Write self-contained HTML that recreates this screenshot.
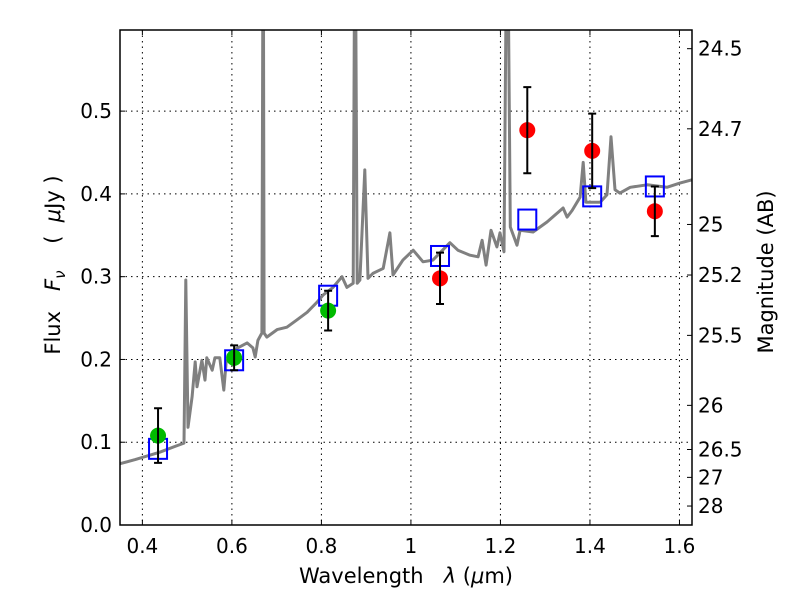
<!DOCTYPE html>
<html><head><meta charset="utf-8"><style>
body{margin:0;background:#fff;}
svg{display:block;font-family:"DejaVu Sans","Liberation Sans",sans-serif;}
</style></head><body>
<svg id="chart" width="800" height="600" viewBox="0 0 800 600" xmlns="http://www.w3.org/2000/svg">
<rect x="0" y="0" width="800" height="600" fill="#fff"/>
<defs><clipPath id="clip"><rect x="120" y="30" width="572" height="495"/></clipPath></defs>
<g id="grid"></g>
<g id="plot" clip-path="url(#clip)"></g>
<rect x="120" y="30" width="572" height="495" fill="none" stroke="#000" stroke-width="1.5"/>
<g id="axes"></g>
<text x="406" y="583" font-size="21" text-anchor="middle" style="white-space:pre">Wavelength   <tspan font-style="italic">λ</tspan> (<tspan font-style="italic">μ</tspan>m)</text>
<text transform="translate(60,265) rotate(-90)" font-size="21" text-anchor="middle" style="white-space:pre">Flux   <tspan font-style="italic">F</tspan><tspan font-style="italic" font-size="15" dy="5">ν</tspan><tspan dy="-5">    (  </tspan><tspan font-style="italic">μ</tspan>Jy )</text>
<text transform="translate(773,272) rotate(-90)" font-size="21" text-anchor="middle">Magnitude (AB)</text>
</svg>
<script>
const specWl=[.350,.384,.439,.473,.493,.497,.502,.511,.518,.522,.533,.540,.544,.556,.562,.573,.582,.587,.603,.634,.647,.652,.658,.667,.670,.672,.678,.701,.723,.746,.768,.790,.804,.826,.846,.857,.871,.875,.880,.886,.897,.904,.915,.938,.953,.960,.982,1.005,1.027,1.049,1.087,1.105,1.132,1.150,1.159,1.168,1.179,1.192,1.199,1.208,1.215,1.222,1.237,1.244,1.273,1.304,1.340,1.349,1.360,1.378,1.385,1.391,1.423,1.438,1.447,1.456,1.467,1.490,1.528,1.572,1.601,1.628];
const specFlux=[.074,.079,.088,.095,.099,.296,.118,.155,.197,.167,.199,.175,.202,.187,.202,.202,.163,.196,.211,.220,.214,.203,.223,.232,.8,.232,.227,.236,.239,.248,.257,.269,.278,.287,.300,.287,.292,.8,.292,.296,.429,.298,.304,.310,.353,.302,.320,.332,.318,.320,.341,.332,.326,.324,.344,.314,.356,.336,.353,.330,.8,.360,.338,.356,.354,.366,.383,.372,.380,.396,.438,.390,.390,.399,.469,.405,.401,.408,.411,.408,.413,.417];
const greenWl=[0.435,0.605,0.815];
const greenFlux=[0.108,0.202,0.259];
const greenErr=[0.033,0.015,0.024];
const redWl=[1.065,1.26,1.405,1.545];
const redFlux=[0.298,0.477,0.452,0.379];
const redErr=[0.031,0.052,0.045,0.030];
const modelWl=[0.435,0.605,0.815,1.065,1.26,1.405,1.545];
const modelFlux=[0.092,0.199,0.277,0.325,0.369,0.397,0.409];
const xTicks=[0.4,0.6,0.8,1.0,1.2,1.4,1.6];
const xTickLabels=["0.4","0.6","0.8","1","1.2","1.4","1.6"];
const yTicks=[0,0.1,0.2,0.3,0.4,0.5];
const yTickLabels=["0.0","0.1","0.2","0.3","0.4","0.5"];
const magTicks=[24.5,24.7,25,25.2,25.5,26,26.5,27,28];
const magTickLabels=["24.5","24.7","25","25.2","25.5","26","26.5","27","28"];

const NS="http://www.w3.org/2000/svg";
const X0=120,X1=692,Y0=525,Y1=30,XMIN=0.35,XMAX=1.628,YMIN=0,YMAX=0.598;
function sx(v){return X0+(v-XMIN)/(XMAX-XMIN)*(X1-X0);}
function sy(v){return Y0-(v-YMIN)/(YMAX-YMIN)*(Y0-Y1);}
function magToFlux(m){return Math.pow(10,(23.9-m)/2.5);}
function mk(tag,attrs,parent){const e=document.createElementNS(NS,tag);for(const k in attrs)e.setAttribute(k,attrs[k]);parent.appendChild(e);return e;}
const grid=document.getElementById('grid'),plot=document.getElementById('plot'),axes=document.getElementById('axes');

xTicks.forEach((t,i)=>{
  const x=sx(t);
  const g=mk('line',{x1:x,x2:x,y1:Y1,y2:Y0,stroke:'#000','stroke-width':1,'stroke-dasharray':'1.5,4'},grid);
  
  
  mk('line',{x1:x,x2:x,y1:Y0,y2:Y0-5,stroke:'#000','stroke-width':1},axes);
  mk('line',{x1:x,x2:x,y1:Y1,y2:Y1+5,stroke:'#000','stroke-width':1},axes);
  const tx=mk('text',{x:x,y:553,'font-size':20,'text-anchor':'middle'},axes);
  tx.textContent=xTickLabels[i];
  
  
});
yTicks.forEach((t,i)=>{
  const y=sy(t);
  const g=mk('line',{x1:X0,x2:X1,y1:y,y2:y,stroke:'#000','stroke-width':1,'stroke-dasharray':'1.5,4'},grid);
  
  
  mk('line',{x1:X0,x2:X0+5,y1:y,y2:y,stroke:'#000','stroke-width':1},axes);
  const tx=mk('text',{x:112,y:y+7,'font-size':20,'text-anchor':'end'},axes);
  tx.textContent=yTickLabels[i];
  
  
});
magTicks.forEach((m,i)=>{
  const y=sy(magToFlux(m));
  mk('line',{x1:X1,x2:X1-5,y1:y,y2:y,stroke:'#000','stroke-width':1},axes);
  const tx=mk('text',{x:698,y:y+7,'font-size':20,'text-anchor':'start'},axes);
  tx.textContent=magTickLabels[i];
  
  
});

const pts=specWl.map((w,i)=>sx(w).toFixed(1)+','+sy(specFlux[i]).toFixed(1)).join(' ');
const pl=mk('polyline',{points:pts,fill:'none',stroke:'#808080','stroke-width':3,'stroke-linejoin':'round'},plot);



modelWl.forEach((w,i)=>{
  const r=mk('rect',{x:sx(w)-9,y:sy(modelFlux[i])-10,width:18,height:20,fill:'none',stroke:'#0000ff','stroke-width':2},plot);
  
  
});
function errPts(wl,fl,er,color,name){
  wl.forEach((w,i)=>{
    const x=sx(w),yt=sy(fl[i]+er[i]),yb=sy(fl[i]-er[i]);
    const c=mk('circle',{cx:x,cy:sy(fl[i]),r:8,fill:color},plot);
    
    
    const eb=mk('path',{d:`M${x},${yt}V${yb}M${x-4},${yt}H${x+4}M${x-4},${yb}H${x+4}`,stroke:'#000','stroke-width':2,fill:'none'},plot);
    
    
  });
}
errPts(greenWl,greenFlux,greenErr,'#00bb00','green-photometry-point');
errPts(redWl,redFlux,redErr,'#ff0000','red-photometry-point');
</script>
</body></html>
